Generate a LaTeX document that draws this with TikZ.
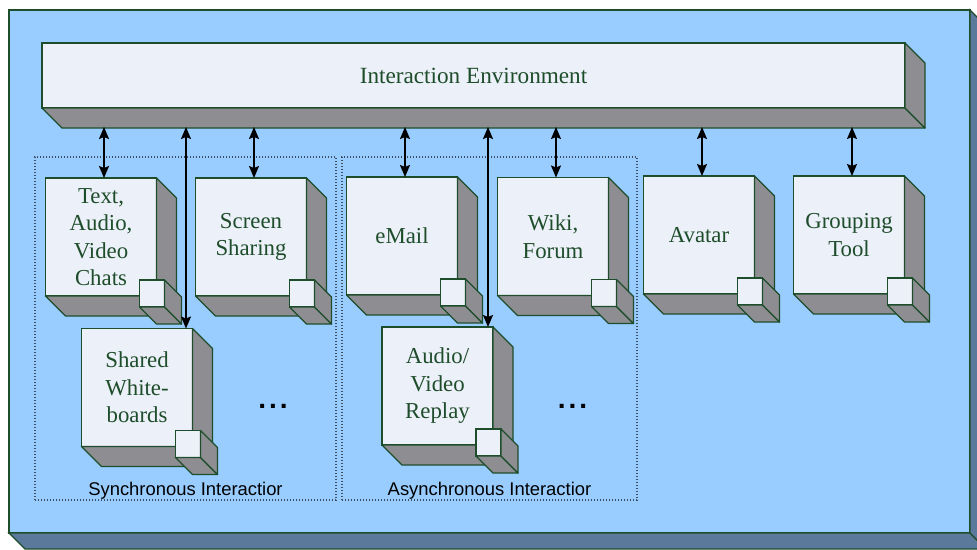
\documentclass[tikz,border=0pt]{standalone}
\usepackage{fontspec}
\setmainfont{Liberation Serif}
\setsansfont{Liberation Sans}
\usetikzlibrary{arrows.meta, positioning}

\definecolor{bgblue}{HTML}{99CCFF}
\definecolor{bgside}{HTML}{5B7A9B}
\definecolor{boxfill}{HTML}{ECF0F8}
\definecolor{boxside}{HTML}{8E8E92}
\definecolor{edgegreen}{HTML}{1E4D2B}
\definecolor{groupgray}{HTML}{3E4E62}

\tikzstyle{backdrop} = [rectangle, draw=edgegreen, line width=1.3pt, fill=bgblue, minimum width=961pt, minimum height=523pt, inner sep=0pt, outer sep=0pt]
\tikzstyle{backside} = [draw=edgegreen, line width=1.3pt, fill=bgside]
\tikzstyle{bar} = [rectangle, draw=edgegreen, line width=1.3pt, fill=boxfill, text=edgegreen, minimum width=863pt, minimum height=65pt, inner sep=0pt, outer sep=0pt, font={\fontsize{23.2}{27.5}\selectfont}]
\tikzstyle{block} = [rectangle, draw=edgegreen, line width=1.3pt, fill=boxfill, text=edgegreen, minimum width=111pt, minimum height=118pt, inner sep=0pt, outer sep=0pt, align=center, font={\fontsize{22.8}{27.5}\selectfont}]
\tikzstyle{knob} = [rectangle, draw=edgegreen, line width=1.3pt, fill=boxfill, minimum width=25pt, minimum height=27pt, inner sep=0pt, outer sep=0pt]
\tikzstyle{side} = [draw=edgegreen, line width=1.3pt, fill=boxside, line join=round]
\tikzstyle{group} = [rectangle, draw=groupgray, line width=1.2pt, dash pattern=on 1.2pt off 1.8pt, minimum height=343pt, inner sep=0pt, outer sep=0pt]
\tikzstyle{grouplabel} = [font={\sffamily\fontsize{18.4}{20}\selectfont}, inner sep=0pt]
\tikzstyle{more} = [font={\sffamily\bfseries\fontsize{28}{30}\selectfont}, inner sep=0pt]
\tikzstyle{link} = [line width=1.6pt, <->, >={Stealth[length=12pt,width=10pt,inset=2pt]}]

\newcommand{\drawSides}[3]
{
    \draw [#3] (#1.south west) -- ++(#2,#2) -- ([shift={(#2,#2)}]#1.south east) -- (#1.south east) -- cycle;
    \draw [#3] (#1.north east) -- ++(#2,#2) -- ([shift={(#2,#2)}]#1.south east) -- (#1.south east) -- cycle;
}
\newcommand{\drawKnob}[1]
{
    \node (#1-knob) [knob, anchor=north west] at ([shift={(-17,-16)}]#1.south east) {};
    \drawSides{#1-knob}{17}{side}
}

\begin{document}
\begin{tikzpicture}[x=1pt, y=-1pt]
\useasboundingbox (0,0) rectangle (977,549);
\clip (0,0) rectangle (977,549);

\node (bg) [backdrop] at (489.5,271.5) {};
\drawSides{bg}{16}{backside}

% groups
\node (sync) [group, minimum width=301pt] at (185.5,328.5) {};
\node (async) [group, minimum width=295pt] at (489.5,328.5) {};
\node (synclbl) [grouplabel, anchor=base] at ([yshift=5pt]sync.south) {Synchronous Interactior};
\node (asynclbl) [grouplabel, anchor=base] at ([yshift=5pt]async.south) {Asynchronous Interactior};

\node (env) [bar] at (473.5,75.5) {Interaction Environment};
\drawSides{env}{20}{side}
\coordinate (envbase) at (0,127);

% first row
\node (chat) [block] at (101,237) {Text,\\Audio,\\Video\\Chats};
\node (screen) [block] at (251,237) {Screen\\Sharing};
\node (email) [block] at (402,236) {eMail};
\node (wiki) [block] at (553,236.5) {Wiki,\\Forum};
\node (avatar) [block] at (699,235) {Avatar};
\node (grouping) [block] at (849,235) {Grouping\\Tool};
% second row
\node (board) [block] at (137,387.5) {Shared\\White-\\boards};
\node (replay) [block] at (437.5,386) {Audio/\\Video\\Replay};

\foreach \b in {chat,screen,email,wiki,avatar,grouping,board,replay}
{
    \drawSides{\b}{20}{side}
    \drawKnob{\b}
}

\node (syncmore) [more] at (273,406) {.\kern3pt.\kern3pt.};
\node (asyncmore) [more] at (572.5,406) {.\kern3pt.\kern3pt.};

\foreach \b in {chat,screen,email,wiki,avatar,grouping}
    \draw [link] ([xshift=3pt]\b.north |- envbase) -- ([xshift=3pt]\b.north);
\draw [link] ([xshift=-6.5pt]board.north east |- envbase) -- ([xshift=-6.5pt]board.north east);
\draw [link] ([xshift=-5pt]replay.north east |- envbase) -- ([xshift=-5pt]replay.north east);

\end{tikzpicture}
\end{document}
